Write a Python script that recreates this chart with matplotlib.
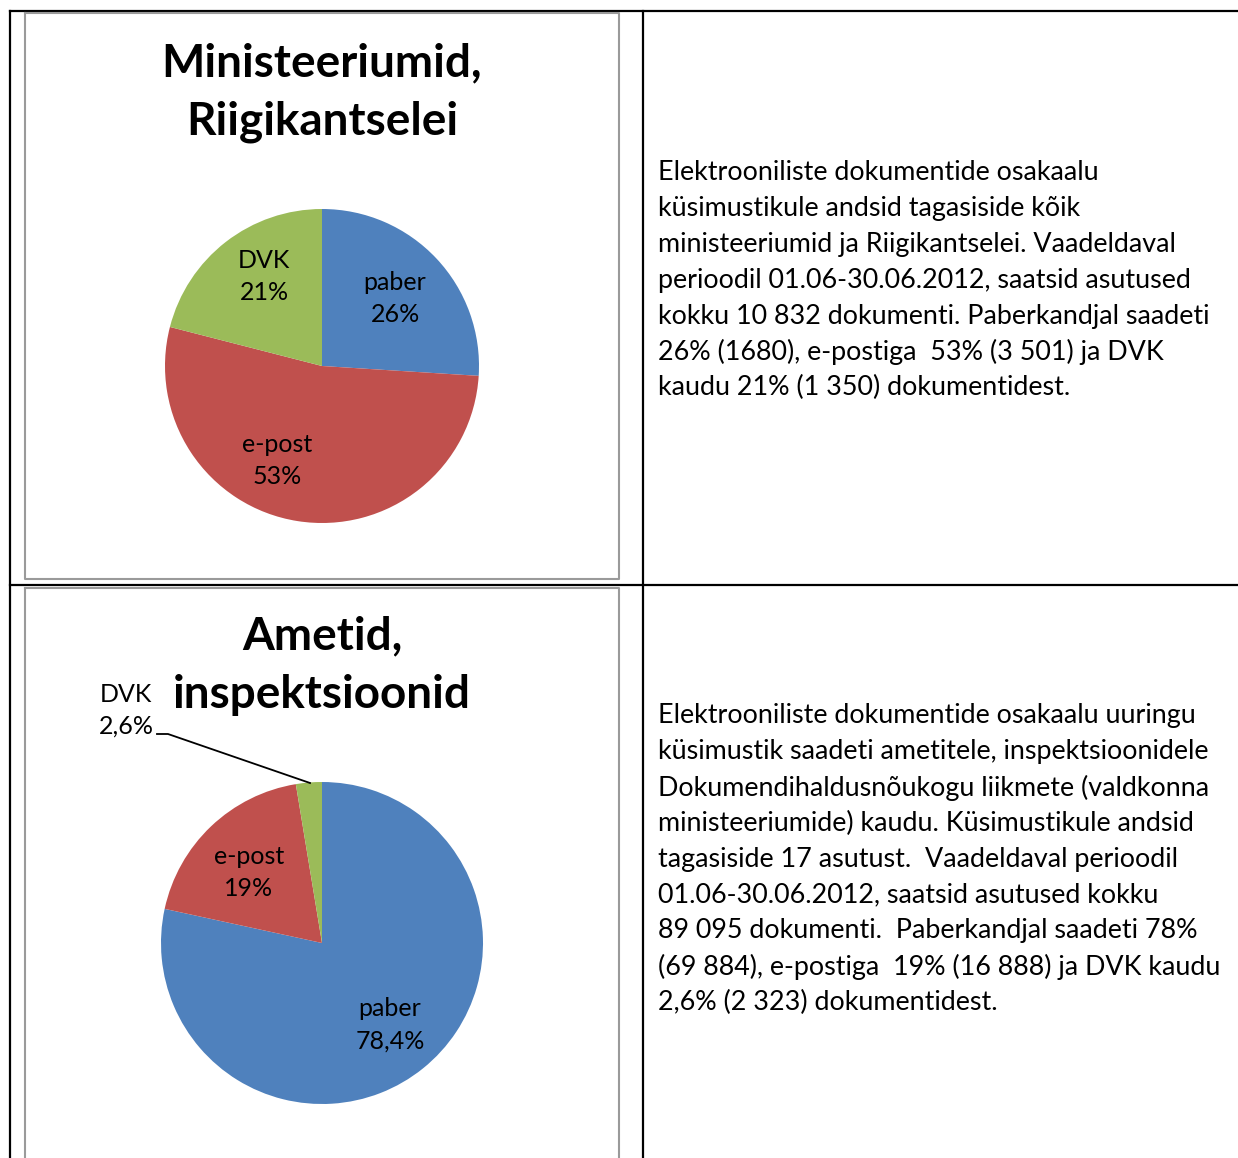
import matplotlib
matplotlib.use("Agg")
import matplotlib.pyplot as plt

W, H = 1238, 1158
DPI = 100

# ---- data ----
categories = ["paber", "e-post", "DVK"]
ministries_values = [26, 53, 21]
ministries_labels = ["paber\n26%", "e-post\n53%", "DVK\n21%"]
agencies_values = [78.4, 19, 2.6]
agencies_labels = ["paber\n78,4%", "e-post\n19%", "DVK\n2,6%"]
titles = ["Ministeeriumid,\nRiigikantselei", "Ametid,\ninspektsioonid"]
texts = [
    "Elektrooniliste dokumentide osakaalu\n"
    "küsimustikule andsid tagasiside kõik\n"
    "ministeeriumid ja Riigikantselei. Vaadeldaval\n"
    "perioodil 01.06-30.06.2012, saatsid asutused\n"
    "kokku 10 832 dokumenti. Paberkandjal saadeti\n"
    "26% (1680), e-postiga  53% (3 501) ja DVK\n"
    "kaudu 21% (1 350) dokumentidest.",
    "Elektrooniliste dokumentide osakaalu uuringu\n"
    "küsimustik saadeti ametitele, inspektsioonidele\n"
    "Dokumendihaldusnõukogu liikmete (valdkonna\n"
    "ministeeriumide) kaudu. Küsimustikule andsid\n"
    "tagasiside 17 asutust.  Vaadeldaval perioodil\n"
    "01.06-30.06.2012, saatsid asutused kokku\n"
    "89 095 dokumenti.  Paberkandjal saadeti 78%\n"
    "(69 884), e-postiga  19% (16 888) ja DVK kaudu\n"
    "2,6% (2 323) dokumentidest.",
]
colors = ["#4F81BD", "#C0504D", "#9BBB59"]

FONT = "Lato"
plt.rcParams["font.family"] = [FONT, "DejaVu Sans"]

fig = plt.figure(figsize=(W / DPI, H / DPI), dpi=DPI)


def pie_axes(cx, cy, r):
    return fig.add_axes([(cx - r) / W, (H - cy - r) / H, 2 * r / W, 2 * r / H])


def draw_pie(ax, values):
    ax.pie(values, colors=colors, startangle=90, counterclock=False,
           radius=1.0, wedgeprops=dict(linewidth=0))
    ax.set_xlim(-1, 1)
    ax.set_ylim(-1, 1)
    ax.axis("off")


ax1 = pie_axes(322, 366, 157)
draw_pie(ax1, ministries_values)
ax2 = pie_axes(322, 943, 161)
draw_pie(ax2, agencies_values)

# overlay (pixel coordinates) for lines and text, drawn on top of pies
bg = fig.add_axes([0, 0, 1, 1])
bg.set_xlim(0, W)
bg.set_ylim(H, 0)
bg.axis("off")
bg.patch.set_alpha(0)

# table lines
bg.plot([10, W], [11, 11], color="black", lw=1.6)
bg.plot([10, W], [585, 585], color="black", lw=1.6)
bg.plot([10, 10], [11, H], color="black", lw=1.6)
bg.plot([643, 643], [11, H], color="black", lw=1.6)
# chart frames
bg.plot([25, 619, 619, 25, 25], [13, 13, 579, 579, 13], color="#9a9a9a", lw=1.5)
bg.plot([25, 25], [1200, 588], color="#9a9a9a", lw=1.5)
bg.plot([25, 619, 619], [588, 588, 1200], color="#9a9a9a", lw=1.5)


def lines_at(x, y0, step, txt, ha="center", **kw):
    for i, line in enumerate(txt.split("\n")):
        bg.text(x, y0 + i * step, line, ha=ha, va="center", **kw)


LBL = 18
for lab, (x, y) in zip(ministries_labels, [(395, 282), (277, 445), (264, 261)]):
    lines_at(x, y, 32, lab, fontsize=LBL)
for lab, (x, y) in zip(agencies_labels, [(390, 1009), (249, 857), (126, 694)]):
    lines_at(x, y, 32, lab, fontsize=LBL)
# leader line for DVK
bg.plot([157, 168, 310], [734, 734, 783], color="black", lw=1.3)

# titles
lines_at(322, 63, 59, titles[0], fontsize=33, fontweight="bold")
lines_at(322, 636, 59, titles[1], fontsize=33, fontweight="bold")

# body texts
lines_at(658, 173, 35.8, texts[0], ha="left", fontsize=19.35)
lines_at(658, 716, 35.8, texts[1], ha="left", fontsize=19.35)

fig.savefig("out.png", dpi=DPI)
